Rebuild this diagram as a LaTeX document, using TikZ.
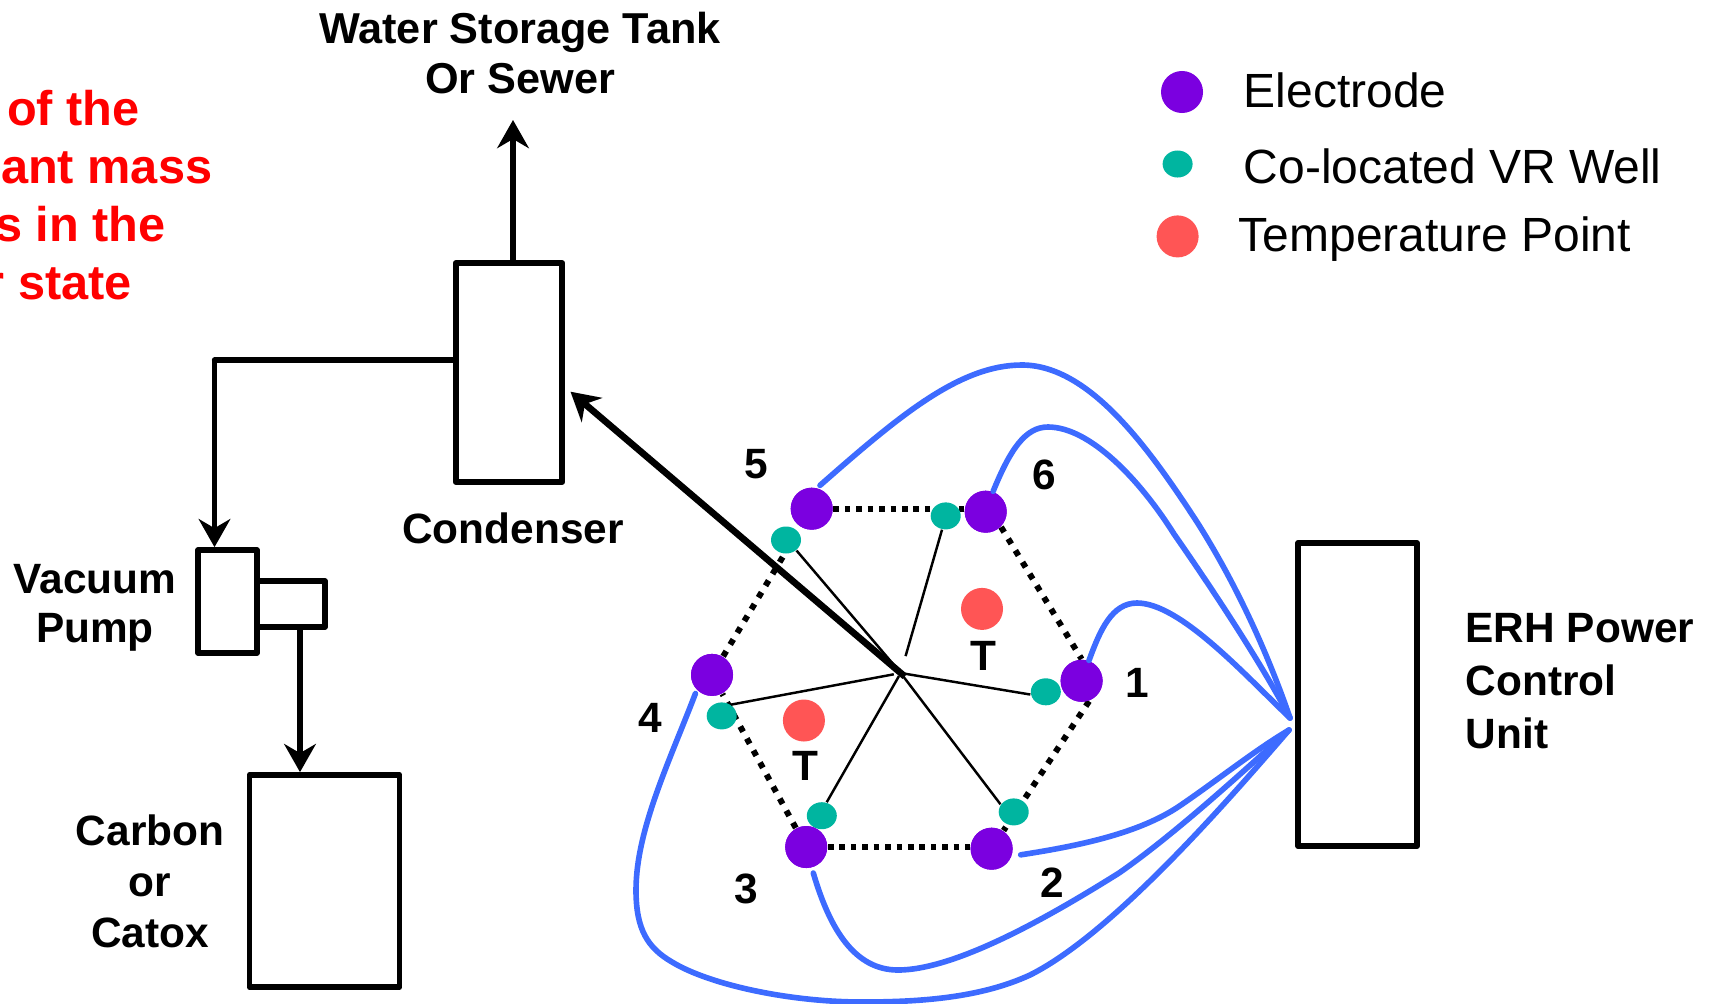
\documentclass[tikz,border=0pt]{standalone}
\usepackage{fontspec}
\setmainfont{Liberation Sans}
\usetikzlibrary{arrows.meta,shapes.geometric}
\definecolor{elecpurple}{HTML}{7B00E0}
\definecolor{wellgreen}{HTML}{00B5A0}
\definecolor{temppink}{HTML}{FF5555}
\definecolor{wireblue}{HTML}{3D6BFF}
\tikzstyle{block} = [rectangle, draw, line width=1.6pt, line join=round, inner sep=0pt]
\tikzstyle{elec} = [circle, fill=elecpurple, inner sep=0pt, minimum size=0.42cm]
\tikzstyle{well} = [ellipse, fill=wellgreen, inner sep=0pt, minimum width=0.3cm, minimum height=0.27cm]
\tikzstyle{temp} = [circle, fill=temppink, inner sep=0pt, minimum size=0.42cm]
\tikzstyle{lab} = [font=\fontsize{12.05}{14}\selectfont\bfseries, inner sep=0pt, align=center]
\tikzstyle{leg} = [font=\fontsize{13.65}{16}\selectfont, inner sep=0pt, anchor=west]
\tikzstyle{redlab} = [font=\fontsize{13.85}{16}\selectfont\bfseries, text=red, inner sep=0pt, anchor=east]
\tikzset{edge/.style = {
    line width=1.5pt,
    -{Stealth[length=8pt,width=9pt]},
  },
  wire/.style = {wireblue, line width=1.6pt, line cap=round},
  dots/.style = {line width=1.7pt, dash pattern=on 1.6pt off 1.65pt},
  slantdots/.style = {line width=1.7pt, dash pattern=on 1.7pt off 2.2pt},
  spoke/.style = {line width=0.7pt},
}
\begin{document}
\begin{tikzpicture}[x=0.01cm,y=-0.01cm]
            \useasboundingbox (0,0) rectangle (1716,1003);
            % boxes
            \node[block, minimum width=1.065cm, minimum height=2.19cm] (cond) at (509,372.5) {};
            \node[block, minimum width=0.59cm, minimum height=1.03cm] (pump) at (227.5,601.5) {};
            \node[block, minimum width=0.68cm, minimum height=0.46cm] (pumpout) at (291,604) {};
            \node[block, minimum width=1.5cm, minimum height=2.12cm] (carbon) at (324.5,881) {};
            \node[block, minimum width=1.19cm, minimum height=3.03cm] (erh) at (1357.5,694.5) {};
            \coordinate (wstop) at (513,120);
            \coordinate (bend) at (214.5,360);
            \coordinate (pipe) at (300,700);
            \coordinate (erhtop) at (1290,718);
            \coordinate (erhbot) at (1289,730);
            \coordinate (hub) at (900.7,673);
            \coordinate (condtip) at (570.5,391.7);

            % electrodes
            \node[elec] (e1) at (1081.6,680.8) {};
            \node[elec] (e2) at (991.6,848.7) {};
            \node[elec] (e3) at (806.2,847) {};
            \node[elec] (e4) at (712,674.9) {};
            \node[elec] (e5) at (811.7,508.7) {};
            \node[elec] (e6) at (985.7,511.7) {};

            %dotted ring
            \draw[slantdots] (e1.-70) -- (e2);
            \draw[dots] (e3.east) -- (e3 -| e2.west);
            \draw[slantdots] (e3) -- (e4);
            \draw[slantdots] (e4) -- (e5);
            \draw[dots] (e5.east) -- (e5 -| e6.west);
            \draw[slantdots] (e6.-45) -- (e1.north);

            % vr wells
            \node[well] (w1) at (1045.8,691.8) {};
            \node[well] (w2) at (1013.7,811.9) {};
            \node[well] (w3) at (821.8,815.7) {};
            \node[well] (w4) at (721.7,715.9) {};
            \node[well] (w5) at (786,540) {};
            \node[well] (w6) at (945.7,515.9) {};
            \node[elec] at (e1) {};
            \node[elec] at (e2) {};
            \node[elec] at (e3) {};
            \node[elec] at (e4) {};
            \node[elec] at (e5) {};
            \node[elec] at (e6) {};

            % temperature points
            \node[temp] (t1) at (982,608.9) {};
            \node[temp] (t2) at (803.9,720.5) {};
            \node[lab] (t1lab) at (983.4,656.3) {T};
            \node[lab] (t2lab) at (805.7,766.2) {T};

            % numbers
            \node[lab] (n1) at (1137,682.5) {1};
            \node[lab] (n2) at (1052,883) {2};
            \node[lab] (n3) at (746.5,889) {3};
            \node[lab] (n4) at (650.5,718.4) {4};
            \node[lab] (n5) at (756.6,463.9) {5};
            \node[lab] (n6) at (1044.4,474.5) {6};

            %spokes
            \draw[spoke, shorten <=1pt] (hub) -- (w1.190);
            \draw[spoke, shorten <=1pt] (hub) -- (w2.150);
            \draw[spoke, shorten <=1pt] (hub) -- (w3.70);
            \draw[spoke, shorten <=2pt] (hub) -- (w4.50);
            \draw[spoke] (hub) -- (w5.-45);
            \draw[spoke, shorten <=5pt] (hub) -- (w6.255);

            %edges
            \draw[edge] (wstop |- cond.north) -- (wstop);
            \draw[line width=1.5pt, line cap=round] (cond.west |- bend) -- (bend);
            \draw[edge] (bend) -- (bend |- pump.north);
            \draw[edge] (pipe |- pumpout.south) -- (pipe |- carbon.north);
            \draw[edge, line width=1.9pt, shorten <=-1.5pt] (hub) -- (condtip);

            %wires
            \draw[wire, shorten <=1pt] (e5.75) .. controls (900,415) and (960,365) .. (1022,365) .. controls (1090,365) and (1150,450) .. (1197,522) .. controls (1240,590) and (1270,660) .. (erhtop);
            \draw[wire] (e6.70) .. controls (1010,450) and (1025,427) .. (1048,427) .. controls (1090,427) and (1140,480) .. (1174,534) .. controls (1220,600) and (1265,670) .. (erhtop);
            \draw[wire] (e1.70) .. controls (1100,630) and (1112,603) .. (1137,603) .. controls (1180,603) and (1245,675) .. (erhtop);
            \draw[wire, shorten <=2.5pt] (e2.-20) .. controls (1085,845) and (1140,832) .. (1178,807) .. controls (1215,782) and (1255,750) .. (erhbot);
            \draw[wire, shorten <=1.5pt] (e3.-75) .. controls (830,930) and (855,970) .. (898,970) .. controls (960,970) and (1063,908) .. (1119,873) .. controls (1175,834) and (1245,770) .. (erhbot);
            \draw[wire, shorten <=1pt] (e4.225) .. controls (670,760) and (636,830) .. (636,890) .. controls (636,930) and (648,948) .. (672,962) .. controls (710,985) and (790,1002) .. (862,1002) .. controls (920,1002) and (980,998) .. (1030,975) .. controls (1110,935) and (1220,810) .. (erhbot);

            % labels
            \node[lab, font=\fontsize{12.3}{14}\selectfont\bfseries] (tanklab) at (520,53) {Water Storage Tank\\Or Sewer};
            \node[lab] (condlab) at (513,528.6) {Condenser};
            \node[lab] (pumplab) at (95,608) {Vacuum\\Pump};
            \node[lab] (carbonlab) at (150,881) {Carbon\\[0.5pt]or\\[0.5pt]Catox};
            \node[lab, align=left, anchor=west] (erhlab) at (1465,681) {ERH Power\\[1pt]Control\\[1pt]Unit};
            \node[redlab] (red1) at (140.5,108.5) {of the};
            \node[redlab] (red2) at (213,168) {nant mass};
            \node[redlab] (red3) at (166.5,224.5) {s in the};
            \node[redlab] (red4) at (132.5,284) {r state};

            % legend
            \node[elec] (legelec) at (1182,92) {};
            \node[well] (legwell) at (1177.6,164) {};
            \node[temp] (legtemp) at (1177.6,236.4) {};
            \node[leg] (legelectxt) at (1243,90) {Electrode};
            \node[leg] (legwelltxt) at (1243,166) {Co-located VR Well};
            \node[leg] (legtemptxt) at (1238,239) {Temperature Point};
\end{tikzpicture}
\end{document}
